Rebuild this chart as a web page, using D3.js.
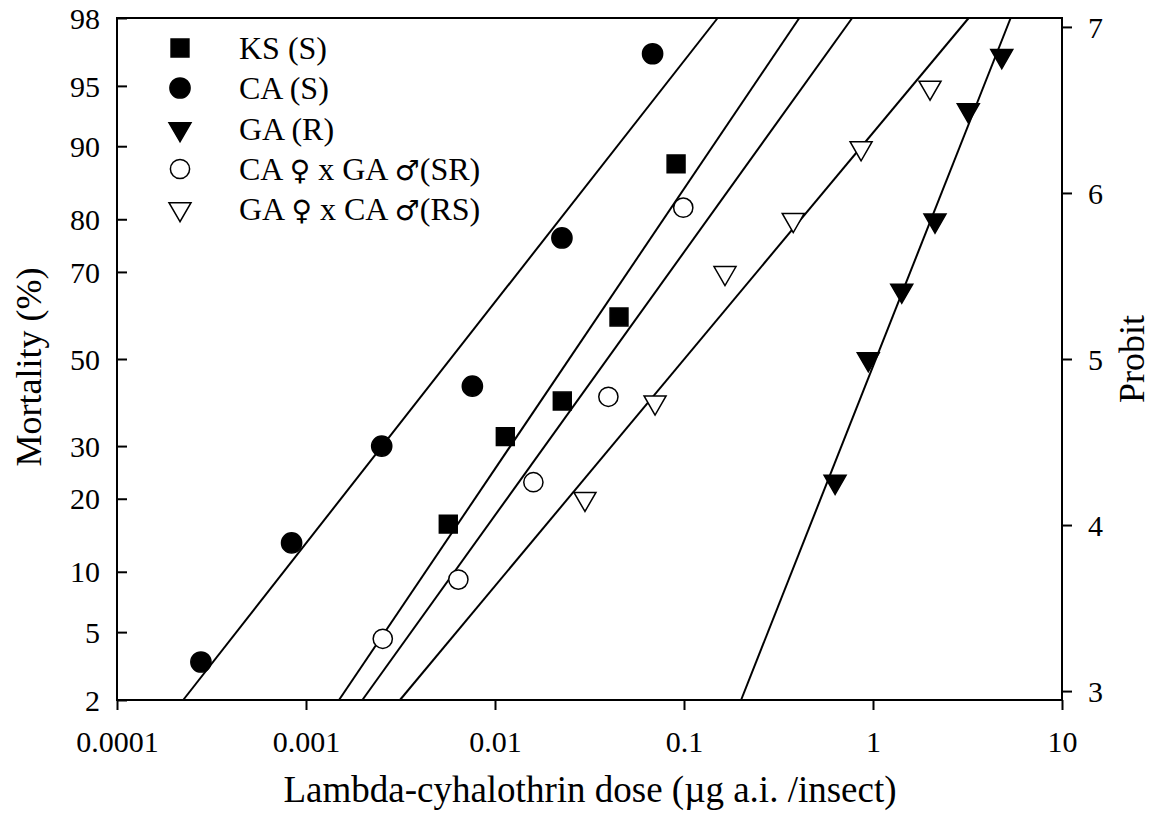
<!DOCTYPE html>
<html>
<head>
<meta charset="utf-8">
<script src="https://cdn.jsdelivr.net/npm/d3@7"></script>
<style>
body { margin: 0; background: #fff; }
text { font-family: "Liberation Serif", "Times New Roman", serif; fill: #000; }
</style>
</head>
<body>
<svg id="chart" width="1157" height="815"></svg>
<script>
// dose (ug a.i./insect) and mortality (%)
var ksDose = [0.00566, 0.01134, 0.0227, 0.0453, 0.0908];
var ksMort = [16, 32, 40, 60, 88];
var caDose = [0.000278, 0.000839, 0.002515, 0.00759, 0.0226, 0.0682];
var caMort = [3.4, 13.4, 30, 43.5, 76.7, 96.7];
var gaDose = [0.63, 0.944, 1.419, 2.128, 3.193, 4.8];
var gaMort = [23, 50, 66, 79.8, 93.3, 96.6];
var srDose = [0.002548, 0.0064, 0.01596, 0.0398, 0.0991];
var srMort = [4.6, 9.2, 22.9, 41, 81.9];
var rsDose = [0.02992, 0.0703, 0.1648, 0.3785, 0.865, 2.003];
var rsMort = [20, 39.7, 69.8, 79.9, 89.8, 94.9];

// fitted probit lines: dose where each line meets 2% and 98% mortality
var lineMort = [2, 98];
var ksLine = [0.001495, 0.4074];
var caLine = [0.000224, 0.1507];
var gaLine = [0.2005, 5.35];
var srLine = [0.001987, 0.776];
var rsLine = [0.003141, 3.209];

var xTicks = [0.0001, 0.001, 0.01, 0.1, 1, 10];
var xTickLabels = ["0.0001", "0.001", "0.01", "0.1", "1", "10"];
var mortTicks = [2, 5, 10, 20, 30, 50, 70, 80, 90, 95, 98];
var probitTicks = [3, 4, 5, 6, 7];

// legend labels split so the sex symbols can get their own font
var legendParts = [
	["KS (S)"],
	["CA (S)"],
	["GA (R)"],
	["CA ", "\u2640", " x GA ", "\u2642", "(SR)"],
	["GA ", "\u2640", " x CA ", "\u2642", "(RS)"]
];

// inverse normal cdf (Acklam), probit = z + 5
var probit = function(pct) {
	var p = pct / 100;
	var a = [-3.969683028665376e+01, 2.209460984245205e+02, -2.759285104469687e+02, 1.383577518672690e+02, -3.066479806614716e+01, 2.506628277459239e+00];
	var b = [-5.447609879822406e+01, 1.615858368580409e+02, -1.556989798598866e+02, 6.680131188771972e+01, -1.328068155288572e+01];
	var c = [-7.784894002430293e-03, -3.223964580411365e-01, -2.400758277161838e+00, -2.549732539343734e+00, 4.374664141464968e+00, 2.938163982698783e+00];
	var d = [7.784695709041462e-03, 3.224671290700398e-01, 2.445134137142996e+00, 3.754408661907416e+00];
	var pl = 0.02425, q, r, z;
	if (p < pl) {
		q = Math.sqrt(-2 * Math.log(p));
		z = (((((c[0]*q+c[1])*q+c[2])*q+c[3])*q+c[4])*q+c[5]) / ((((d[0]*q+d[1])*q+d[2])*q+d[3])*q+1);
	} else if (p <= 1 - pl) {
		q = p - 0.5; r = q * q;
		z = (((((a[0]*r+a[1])*r+a[2])*r+a[3])*r+a[4])*r+a[5])*q / (((((b[0]*r+b[1])*r+b[2])*r+b[3])*r+b[4])*r+1);
	} else {
		q = Math.sqrt(-2 * Math.log(1 - p));
		z = -(((((c[0]*q+c[1])*q+c[2])*q+c[3])*q+c[4])*q+c[5]) / ((((d[0]*q+d[1])*q+d[2])*q+d[3])*q+1);
	}
	return z + 5;
}

var svg = d3.select("#chart");
var plotL = 117, plotR = 1062, plotT = 18, plotB = 700;

var x = d3.scaleLog().domain([0.0001, 10]).range([plotL, plotR]);
var y = d3.scaleLinear().domain([probit(2), probit(98)]).range([plotB, plotT]);

// frame
svg.append("rect")
	.attr("x", plotL).attr("y", plotT)
	.attr("width", plotR - plotL).attr("height", plotB - plotT)
	.attr("fill", "none").attr("stroke", "#000").attr("stroke-width", 2);

// bottom axis, ticks outward
var xAxis = svg.append("g")
	.attr("transform", "translate(0," + plotB + ")")
	.call(d3.axisBottom(x).tickValues(xTicks).tickSize(10).tickPadding(21)
		.tickFormat(function(d, i) { return xTickLabels[i]; }));

// left axis: mortality at probit positions, ticks inward
var yAxisL = svg.append("g")
	.attr("transform", "translate(" + plotL + ",0)")
	.call(d3.axisRight(y).tickValues(mortTicks.map(probit)).tickSize(10)
		.tickFormat(function(d, i) { return mortTicks[i]; }));
yAxisL.selectAll("text")
	.attr("x", -17).attr("text-anchor", "end");

// right axis: probit, ticks outward
var yAxisR = svg.append("g")
	.attr("transform", "translate(" + plotR + ",0)")
	.call(d3.axisRight(y).tickValues(probitTicks).tickSize(10).tickPadding(16)
		.tickFormat(d3.format("d")));

[xAxis, yAxisL, yAxisR].forEach(function(g) {
	g.select(".domain").remove();
	g.selectAll("line").attr("stroke", "#000").attr("stroke-width", 2);
	g.selectAll("text")
		.style("font-family", '"Liberation Serif", "Times New Roman", serif')
		.attr("font-size", "30px")
		.attr("fill", "#000");
});
yAxisL.selectAll("text").attr("dy", "0.34em");
yAxisR.selectAll("text").attr("dy", "0.34em");

// axis titles
svg.append("text")
	.attr("x", 590).attr("y", 802)
	.attr("text-anchor", "middle")
	.attr("font-size", "37px")
	.text("Lambda-cyhalothrin dose (\u00b5g a.i. /insect)");

svg.append("text")
	.attr("transform", "translate(28,367) rotate(-90)")
	.attr("text-anchor", "middle")
	.attr("dy", "0.35em")
	.attr("font-size", "36px")
	.text("Mortality (%)");

svg.append("text")
	.attr("transform", "translate(1131,359) rotate(-90)")
	.attr("text-anchor", "middle")
	.attr("dy", "0.35em")
	.attr("font-size", "36px")
	.text("Probit");

// regression lines
var lines = [ksLine, caLine, gaLine, srLine, rsLine];
var lineGen = d3.line()
	.x(function(d) { return x(d[0]); })
	.y(function(d) { return y(probit(d[1])); });

lines.forEach(function(l) {
	svg.append("path")
		.attr("d", lineGen(l.map(function(dose, i) { return [dose, lineMort[i]]; })))
		.attr("fill", "none")
		.attr("stroke", "#000")
		.attr("stroke-width", 2);
});

// markers
var symSquare = d3.symbol().type(d3.symbolSquare).size(320);
var symCircle = d3.symbol().type(d3.symbolCircle).size(320);
var symCircleOpen = d3.symbol().type(d3.symbolCircle).size(290);
var symTri = d3.symbol().type(d3.symbolTriangle).size(210);

var series = [
	{dose: ksDose, mort: ksMort, sym: symSquare, fill: "#000", rot: 0},
	{dose: caDose, mort: caMort, sym: symCircle, fill: "#000", rot: 0},
	{dose: gaDose, mort: gaMort, sym: symTri, fill: "#000", rot: 180},
	{dose: srDose, mort: srMort, sym: symCircleOpen, fill: "#fff", rot: 0},
	{dose: rsDose, mort: rsMort, sym: symTri, fill: "#fff", rot: 180}
];

series.forEach(function(s) {
	svg.append("g").selectAll("path")
		.data(s.dose.map(function(dose, i) { return [dose, s.mort[i]]; }))
		.enter()
		.append("path")
			.attr("d", s.sym())
			.attr("transform", function(d) {
				return "translate(" + x(d[0]) + "," + y(probit(d[1])) + ") rotate(" + s.rot + ")";
			})
			.attr("fill", s.fill)
			.attr("stroke", "#000")
			.attr("stroke-width", 1.5);
});

// legend
var legendY = [48, 88, 129, 169, 209];
series.forEach(function(s, i) {
	svg.append("path")
		.attr("d", s.sym())
		.attr("transform", "translate(180," + legendY[i] + ") rotate(" + s.rot + ")")
		.attr("fill", s.fill)
		.attr("stroke", "#000")
		.attr("stroke-width", 1.5);
	var t = svg.append("text")
		.attr("x", 239).attr("y", legendY[i])
		.attr("dy", "0.34em")
		.attr("font-size", "32px");
	legendParts[i].forEach(function(part) {
		var sp = t.append("tspan").text(part);
		if (part == "\u2640" || part == "\u2642") {
			sp.style("font-family", '"DejaVu Sans", sans-serif').attr("font-size", "28px");
		}
	});
});
</script>
</body>
</html>
